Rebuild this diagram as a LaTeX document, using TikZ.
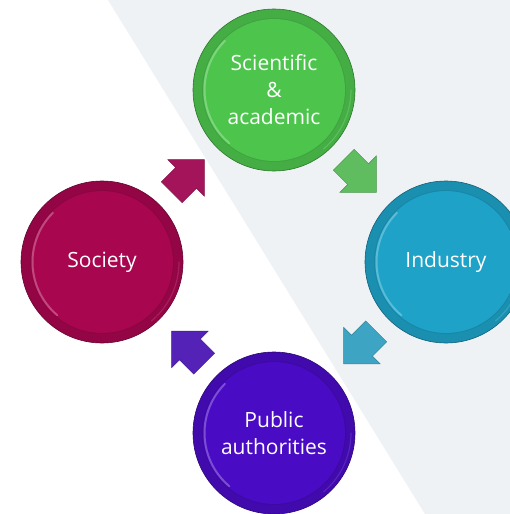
\documentclass[tikz,border=0pt]{standalone}
\usepackage{fontspec}
\setmainfont{Open Sans}
\usetikzlibrary{shapes.arrows,calc}
\definecolor{bgband}{HTML}{EEF2F5}
\definecolor{cgreen}{HTML}{4DC54D}
\definecolor{ccyan}{HTML}{1EA2C8}
\definecolor{cpurple}{HTML}{4A0BC4}
\definecolor{cmag}{HTML}{A8064F}
\definecolor{agreen}{HTML}{5FBC5F}
\definecolor{acyan}{HTML}{3DA5C3}
\definecolor{apurple}{HTML}{5522B8}
\definecolor{amag}{HTML}{A3145A}
\begin{document}
\begin{tikzpicture}[x=1pt,y=-1pt,
  bubble/.style={circle, minimum size=162pt, inner sep=0pt, text=white, align=center,
    font=\fontsize{21}{27}\selectfont, fill=#1!88!black, draw=#1!60!black, line width=0.6pt,
    path picture={
      \coordinate (pc) at (path picture bounding box.center);
      \fill[#1] (pc) circle[radius=71pt];
      \draw[#1!75!black, line width=0.8pt, opacity=0.4] (pc) circle[radius=71.5pt];
      \draw[#1!55!white, line width=2pt, opacity=0.6, line cap=round]
        ($(pc)+(135:69.5pt)$) arc[start angle=135, end angle=230, radius=69.5pt];
      \draw[#1!80!white, line width=1.2pt, opacity=0.5, line cap=round]
        ($(pc)+(-50:77pt)$) arc[start angle=-50, end angle=0, radius=77pt];
    }},
  barrow/.style={single arrow, minimum height=46pt,
    single arrow head extend=11pt, single arrow tip angle=90, inner sep=0pt,
    fill=#1, draw=#1!80!black, line width=0.5pt}
]
\useasboundingbox (0,0) rectangle (510,514);
\clip (0,0) rectangle (510,514);
\fill[white] (0,0) rectangle (510,514);
\fill[bgband] (108,0) -- (510,0) -- (510,514) -- (425,514) -- cycle;

\node[bubble=cgreen] (sci) at (274,90) {Scientific\\\&\\academic};
\node[bubble=ccyan] (ind) at (446,262) {Industry};
\node[bubble=cpurple] (pub) at (274,433) {Public\\authorities};
\node[bubble=cmag] (soc) at (102,262) {Society};

\node[barrow=amag, rotate=45] (a1) at ($(soc)!0.47!(sci)$) {\rule{0pt}{29pt}};
\node[barrow=agreen, rotate=-45] (a2) at ($(sci)!0.47!(ind)$) {\rule{0pt}{29pt}};
\node[barrow=acyan, rotate=-135] (a3) at ($(ind)!0.47!(pub)$) {\rule{0pt}{29pt}};
\node[barrow=apurple, rotate=135] (a4) at ($(pub)!0.47!(soc)$) {\rule{0pt}{29pt}};
\end{tikzpicture}
\end{document}
